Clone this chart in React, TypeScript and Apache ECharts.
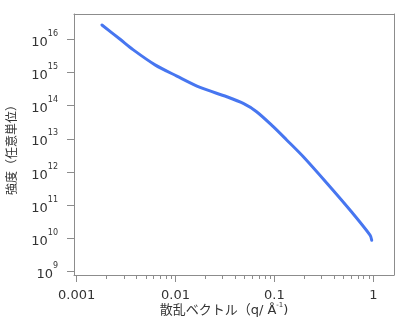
import React, { useEffect, useRef } from "react";
import * as echarts from "echarts";

// Scattering vector q (1/Å) and intensity (arbitrary units)
const qValues = [0.0018, 0.00275, 0.00374, 0.0062, 0.0103, 0.0177, 0.033, 0.0484, 0.066, 0.0973, 0.133, 0.196, 0.338, 0.581, 0.927, 0.964];
const intensityValues = [2.7e16, 1.0e16, 4.8e15, 1.7e15, 7.8e14, 3.55e14, 1.86e14, 1.17e14, 6.6e13, 2.34e13, 9.3e12, 2.9e12, 4.7e11, 7.2e10, 1.26e10, 8.9e9];

const xMajorTicks = [0.001, 0.01, 0.1, 1];
const xTickLabels = ["0.001", "0.01", "0.1", "1"];
const yExponents = [9, 10, 11, 12, 13, 14, 15, 16];
const minorMultipliers = [2, 3, 4, 5, 6, 7, 8, 9];

const xTitle = "散乱ベクトル（q/ Å";
const xTitleSup = "-1";
const yTitle = "強度（任意単位）";

const FONT = "'DejaVu Sans', 'Noto Sans CJK JP', sans-serif";
const TEXT = "#333333";
const FRAME = "#8c8c8c";

export default function App() {
  const ref = useRef<HTMLDivElement>(null);
  useEffect(() => {
    if (!ref.current) return;
    const chart = echarts.init(ref.current, undefined, { renderer: "svg" });
    const lx = (v: number) => Math.log10(v);
    const majorX = xMajorTicks.map(lx);
    const minorX: number[] = [];
    xMajorTicks.slice(0, -1).forEach((d) => minorMultipliers.forEach((m) => minorX.push(lx(d * m))));
    const labelMap: Record<string, string> = {};
    majorX.forEach((v, i) => (labelMap[v.toFixed(3)] = xTickLabels[i]));

    const xMin = -3.0273, xMax = 0.2094, yMin = 8.9006, yMax = 16.762;
    const frameLine = { show: true, onZero: false, lineStyle: { color: FRAME, width: 1 } };

    chart.setOption({
      animation: false,
      grid: { left: 74, right: 5, top: 14, bottom: 48, outerBoundsMode: "none" },
      xAxis: [
        {
          type: "value", min: xMin, max: xMax, position: "bottom",
          axisLine: frameLine,
          splitLine: { show: false },
          axisTick: { show: true, length: 7, customValues: majorX, lineStyle: { color: FRAME } },
          axisLabel: {
            customValues: majorX, margin: 13,
            fontFamily: FONT, fontSize: 13, color: TEXT,
            formatter: (v: number) => labelMap[v.toFixed(3)] ?? "",
          },
        },
        {
          type: "value", min: xMin, max: xMax, position: "bottom",
          axisLine: { show: false, onZero: false },
          splitLine: { show: false },
          axisTick: { show: true, length: 4, customValues: minorX, lineStyle: { color: FRAME } },
          axisLabel: { show: false },
        },
        {
          type: "value", min: xMin, max: xMax, position: "top",
          axisLine: frameLine,
          splitLine: { show: false },
          axisTick: { show: false },
          axisLabel: { show: false },
        },
      ],
      yAxis: [
        {
          type: "value", min: yMin, max: yMax, position: "left",
          axisLine: frameLine,
          splitLine: { show: false },
          axisTick: { show: true, length: 7, customValues: yExponents, lineStyle: { color: FRAME } },
          axisLabel: {
            customValues: yExponents, margin: 16,
            formatter: (v: number) => `{b|10}{s|${Math.round(v)}}`,
            rich: {
              b: { fontFamily: FONT, fontSize: 13, color: TEXT, lineHeight: 20, padding: [4, 0, 0, 0] },
              s: { fontFamily: FONT, fontSize: 8, color: TEXT, lineHeight: 8, verticalAlign: "top" },
            },
          },
        },
        {
          type: "value", min: yMin, max: yMax, position: "right",
          axisLine: frameLine,
          splitLine: { show: false },
          axisTick: { show: false },
          axisLabel: { show: false },
        },
      ],
      graphic: [
        {
          type: "text", x: 224, y: 309,
          style: {
            text: `{a|${xTitle}}{s|${xTitleSup}}{a|)}`,
            align: "center", verticalAlign: "middle",
            rich: {
              a: { fontFamily: FONT, fontSize: 13, fill: TEXT, lineHeight: 16 },
              s: { fontFamily: FONT, fontSize: 7, fill: TEXT, lineHeight: 7, verticalAlign: "top" },
            },
          },
        },
        {
          type: "text", x: 11.5, y: 147, rotation: Math.PI / 2,
          style: {
            text: yTitle, fontFamily: FONT, fontSize: 12, fill: TEXT,
            align: "center", verticalAlign: "middle",
          },
        },
      ],
      series: [
        {
          type: "line",
          xAxisIndex: 0, yAxisIndex: 0,
          data: qValues.map((q, i) => [lx(q), Math.log10(intensityValues[i])]),
          showSymbol: false,
          smooth: 0.3,
          clip: false,
          lineStyle: { color: "#4776f0", width: 3, cap: "round", join: "round" },
        },
      ],
    });
    return () => chart.dispose();
  }, []);
  return <div ref={ref} style={{ position: "fixed", left: 0, top: 0, width: 399, height: 323 }} />;
}
